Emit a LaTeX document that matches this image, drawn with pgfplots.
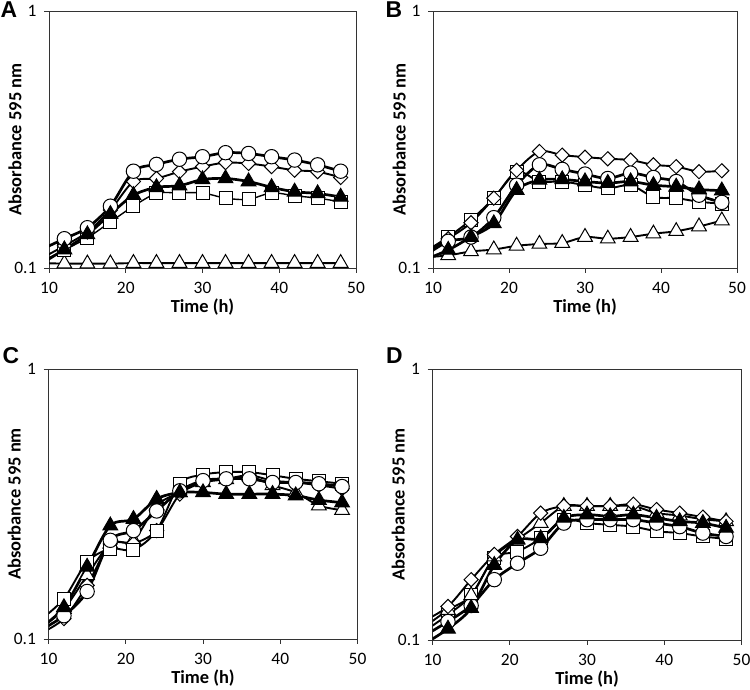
\documentclass[border=0pt]{standalone}
\usepackage{pgfplots}
\pgfplotsset{compat=1.18}
\usepackage{fontspec}
\setmainfont{Carlito}
\newfontfamily\arialfont{Liberation Sans}

\pgfplotsset{
  mypanel/.style={
    scale only axis,
    xmin=10, xmax=50, ymin=0.1, ymax=1,
    xtick={10,20,30,40,50}, xticklabels={10,20,30,40,50},
    ytick={0.1,1}, yticklabels={0.1,1},
    yminorticks=false,
    tick pos=left,
    tick align=outside, major tick length=5bp,
    axis line style={black!80, line width=0.9bp},
    every tick/.style={black!80, line width=0.9bp},
    tick label style={font=\fontsize{17.5}{17.5}\selectfont},
    xticklabel style={yshift=-6bp},
    yticklabel style={xshift=-4bp},
    xlabel={Time (h)}, ylabel={Absorbance 595 nm},
    every axis x label/.style={at={(axis description cs:0.5,0)}, anchor=center, yshift=-39bp, font=\fontsize{18.5}{19}\bfseries\selectfont},
    every axis y label/.style={at={(axis description cs:-0.111,0.5)}, anchor=center, rotate=90, font=\fontsize{18.5}{19}\bfseries\selectfont},
  },
  lwthk/.style={line width=2.7bp},
  lwmid/.style={line width=1.9bp},
  lwthn/.style={line width=1.4bp},
  scirc/.style={black, smooth, tension=0.5, mark=*, mark size=7.2bp, mark options={fill=white, draw=black, line width=1bp, solid}},
  sdiam/.style={black, smooth, tension=0.5, mark=square*, mark size=5bp, mark options={rotate=45, fill=white, draw=black, line width=1bp, solid}},
  ssqr/.style={black, smooth, tension=0.5, mark=square*, mark size=6.5bp, mark options={fill=white, draw=black, line width=1bp, solid}},
  sotri/.style={black, smooth, tension=0.5, mark=triangle*, mark size=8.5bp, mark options={fill=white, draw=black, line width=1bp, solid}},
  sftri/.style={black, smooth, tension=0.5, mark=triangle*, mark size=8.5bp, mark options={fill=black, draw=black, line width=1bp, solid}},
}

\begin{document}
\begin{tikzpicture}[x=1bp,y=1bp]
\path[use as bounding box] (0,0) rectangle (750,690);

% ---------------- Panel A ----------------
\begin{axis}[ymode=log, mypanel, at={(49bp,422bp)}, anchor=south west, width=307bp, height=257bp]
\addplot[sotri, lwmid] coordinates {(9,0.1045)(12,0.104)(15,0.104)(18,0.104)(21,0.1045)(24,0.1045)(27,0.1045)(30,0.1045)(33,0.1045)(36,0.1045)(39,0.1045)(42,0.1045)(45,0.1045)(48,0.1045)};
\addplot[ssqr, lwthn] coordinates {(9,0.106)(12,0.1175)(15,0.131)(18,0.151)(21,0.174)(24,0.195)(27,0.196)(30,0.196)(33,0.187)(36,0.185)(39,0.196)(42,0.191)(45,0.187)(48,0.181)};
\addplot[sdiam, lwmid] coordinates {(9,0.109)(12,0.122)(15,0.138)(18,0.168)(21,0.217)(24,0.223)(27,0.237)(30,0.248)(33,0.257)(36,0.255)(39,0.248)(42,0.240)(45,0.237)(48,0.225)};
\addplot[scirc, lwthk] coordinates {(9,0.118)(12,0.130)(15,0.1435)(18,0.174)(21,0.238)(24,0.253)(27,0.265)(30,0.271)(33,0.281)(36,0.279)(39,0.271)(42,0.263)(45,0.252)(48,0.238)};
\addplot[sftri, lwthk] coordinates {(9,0.104)(12,0.118)(15,0.135)(18,0.162)(21,0.192)(24,0.206)(27,0.209)(30,0.221)(33,0.223)(36,0.217)(39,0.206)(42,0.198)(45,0.195)(48,0.189)};
\end{axis}

% ---------------- Panel B ----------------
\begin{axis}[ymode=log, mypanel, at={(433bp,422bp)}, anchor=south west, width=304bp, height=257bp]
\addplot[sotri, lwmid] coordinates {(9,0.110)(12,0.112)(15,0.116)(18,0.118)(21,0.122)(24,0.124)(27,0.125)(30,0.132)(33,0.130)(36,0.132)(39,0.136)(42,0.139)(45,0.145)(48,0.153)};
\addplot[ssqr, lwmid] coordinates {(9,0.116)(12,0.132)(15,0.154)(18,0.187)(21,0.237)(24,0.217)(27,0.217)(30,0.210)(33,0.204)(36,0.210)(39,0.189)(42,0.187)(45,0.181)(48,0.178)};
\addplot[sdiam, lwmid] coordinates {(9,0.115)(12,0.130)(15,0.150)(18,0.187)(21,0.240)(24,0.284)(27,0.275)(30,0.270)(33,0.266)(36,0.263)(39,0.252)(42,0.248)(45,0.237)(48,0.239)};
\addplot[scirc, lwthk] coordinates {(9,0.112)(12,0.127)(15,0.132)(18,0.157)(21,0.210)(24,0.252)(27,0.242)(30,0.232)(33,0.223)(36,0.234)(39,0.225)(42,0.217)(45,0.192)(48,0.180)};
\addplot[sftri, lwthk] coordinates {(9,0.108)(12,0.1175)(15,0.132)(18,0.149)(21,0.201)(24,0.220)(27,0.221)(30,0.217)(33,0.214)(36,0.217)(39,0.210)(42,0.207)(45,0.202)(48,0.200)};
\end{axis}

% ---------------- Panel C ----------------
\begin{axis}[ymode=log, mypanel, at={(48.5bp,51bp)}, anchor=south west, width=309bp, height=270bp]
\addplot[sotri, lwmid] coordinates {(9,0.110)(12,0.129)(15,0.172)(18,0.225)(21,0.232)(24,0.312)(27,0.349)(30,0.380)(33,0.390)(36,0.400)(39,0.371)(42,0.349)(45,0.312)(48,0.300)};
\addplot[sdiam, lwmid] coordinates {(9,0.105)(12,0.119)(15,0.158)(18,0.225)(21,0.226)(24,0.252)(27,0.344)(30,0.386)(33,0.392)(36,0.404)(39,0.386)(42,0.380)(45,0.371)(48,0.360)};
\addplot[ssqr, lwmid] coordinates {(9,0.118)(12,0.141)(15,0.193)(18,0.216)(21,0.214)(24,0.252)(27,0.376)(30,0.406)(33,0.415)(36,0.415)(39,0.404)(42,0.392)(45,0.384)(48,0.376)};
\addplot[scirc, lwthk] coordinates {(9,0.108)(12,0.122)(15,0.150)(18,0.232)(21,0.252)(24,0.298)(27,0.354)(30,0.386)(33,0.392)(36,0.392)(39,0.380)(42,0.380)(45,0.376)(48,0.367)};
\addplot[sftri, lwthk] coordinates {(9,0.110)(12,0.131)(15,0.185)(18,0.263)(21,0.278)(24,0.330)(27,0.349)(30,0.349)(33,0.344)(36,0.344)(39,0.344)(42,0.340)(45,0.327)(48,0.320)};
\end{axis}

% ---------------- Panel D ----------------
\begin{axis}[ymode=log, mypanel, at={(432.5bp,50bp)}, anchor=south west, width=309bp, height=271bp]
\addplot[ssqr, lwmid] coordinates {(9,0.108)(12,0.124)(15,0.146)(18,0.201)(21,0.212)(24,0.237)(27,0.278)(30,0.270)(33,0.266)(36,0.262)(39,0.252)(42,0.248)(45,0.241)(48,0.236)};
\addplot[scirc, lwthk] coordinates {(9,0.104)(12,0.117)(15,0.134)(18,0.167)(21,0.192)(24,0.218)(27,0.270)(30,0.278)(33,0.278)(36,0.278)(39,0.270)(42,0.262)(45,0.248)(48,0.241)};
\addplot[sotri, lwmid] coordinates {(9,0.112)(12,0.129)(15,0.146)(18,0.203)(21,0.235)(24,0.270)(27,0.312)(30,0.312)(33,0.312)(36,0.312)(39,0.294)(42,0.288)(45,0.279)(48,0.274)};
\addplot[sdiam, lwmid] coordinates {(9,0.118)(12,0.133)(15,0.167)(18,0.207)(21,0.241)(24,0.294)(27,0.312)(30,0.312)(33,0.312)(36,0.317)(39,0.303)(42,0.294)(45,0.284)(48,0.274)};
\addplot[sftri, lwthk] coordinates {(9,0.097)(12,0.110)(15,0.131)(18,0.189)(21,0.234)(24,0.237)(27,0.282)(30,0.290)(33,0.286)(36,0.290)(39,0.282)(42,0.274)(45,0.270)(48,0.259)};
\end{axis}

% panel letters
\node[font=\arialfont\bfseries\fontsize{23}{23}\selectfont] at (9,680) {A};
\node[font=\arialfont\bfseries\fontsize{23}{23}\selectfont] at (394,680) {B};
\node[font=\arialfont\bfseries\fontsize{23}{23}\selectfont] at (11,334) {C};
\node[font=\arialfont\bfseries\fontsize{23}{23}\selectfont] at (394.5,334) {D};
\end{tikzpicture}
\end{document}
